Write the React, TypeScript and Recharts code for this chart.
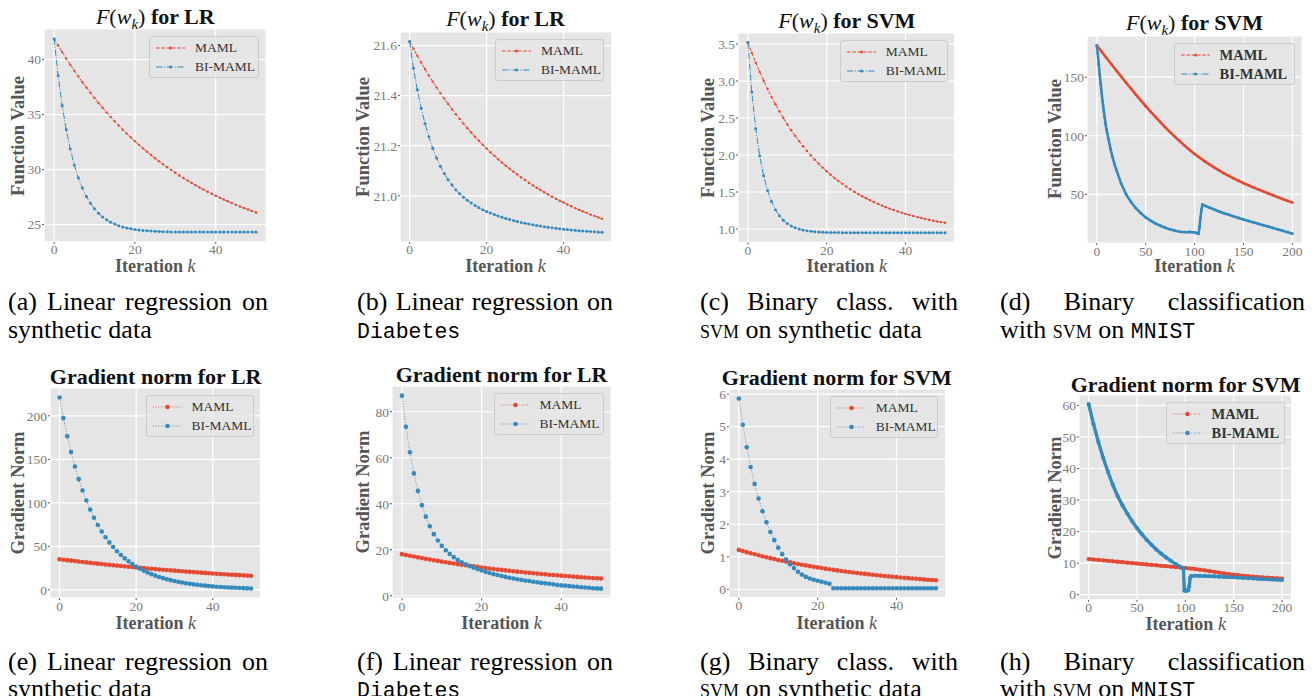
import React from 'react'
import { LineChart, Line, XAxis, YAxis, CartesianGrid } from 'recharts'

const RED = '#E24A33'
const BLUE = '#348ABD'
const SERIF = '"Liberation Serif", "Times New Roman", serif'
const MONO = '"Liberation Mono", "DejaVu Sans Mono", monospace'

// iteration indices
const iters50 = [0, 1, 2, 3, 4, 5, 6, 7, 8, 9, 10, 11, 12, 13, 14, 15, 16, 17, 18, 19, 20, 21, 22, 23, 24, 25,
  26, 27, 28, 29, 30, 31, 32, 33, 34, 35, 36, 37, 38, 39, 40, 41, 42, 43, 44, 45, 46, 47, 48, 49, 50]
const iters200 = [0, 5, 10, 15, 20, 25, 30, 35, 40, 45, 50, 55, 60, 65, 70, 75, 80, 85, 90, 95, 100, 105, 110,
  115, 120, 125, 130, 135, 140, 145, 150, 155, 160, 165, 170, 175, 180, 185, 190, 195, 200]
const itersBiD = [0, 1, 2, 3, 4, 5, 6, 7, 8, 9, 10, 12, 14, 16, 18, 20, 25, 30, 35, 40, 45, 50, 55, 60, 65, 70, 75,
  80, 85, 90, 95, 100, 103, 104, 105, 106, 107, 108, 110, 115, 120, 125, 130, 135, 140, 145, 150, 155, 160, 165,
  170, 175, 180, 185, 190, 195, 200]
const itersBiH = [0, 5, 10, 15, 20, 25, 30, 35, 40, 45, 50, 55, 60, 65, 70, 75, 80, 85, 90, 95, 98, 99, 100, 101,
  102, 103, 104, 105, 106, 110, 115, 120, 125, 130, 135, 140, 145, 150, 155, 160, 165, 170, 175, 180, 185, 190, 195, 200]

// (a) F(w_k), LR synthetic
const aMaml = [41.9, 41.28, 40.68, 40.1, 39.54, 38.99, 38.47, 37.95, 37.46, 36.98, 36.51, 36.06, 35.62, 35.2, 34.79,
  34.39, 34.01, 33.63, 33.27, 32.92, 32.58, 32.25, 31.93, 31.62, 31.33, 31.03, 30.75, 30.48, 30.22, 29.96, 29.72,
  29.47, 29.24, 29.02, 28.8, 28.59, 28.38, 28.18, 27.99, 27.81, 27.63, 27.45, 27.28, 27.12, 26.96, 26.8, 26.65,
  26.51, 26.37, 26.23, 26.1]
const aBi = [41.88, 38.54, 35.83, 33.64, 31.87, 30.43, 29.26, 28.32, 27.56, 26.94, 26.44, 26.03, 25.7, 25.44, 25.22,
  25.05, 24.9, 24.79, 24.7, 24.62, 24.56, 24.51, 24.47, 24.44, 24.41, 24.39, 24.37, 24.36, 24.35, 24.34, 24.33,
  24.33, 24.32, 24.32, 24.32, 24.32, 24.32, 24.32, 24.32, 24.32, 24.32, 24.32, 24.32, 24.32, 24.32, 24.32, 24.32,
  24.32, 24.32, 24.32, 24.32]

// (b) F(w_k), LR Diabetes
const bMaml = [21.616, 21.587, 21.559, 21.532, 21.506, 21.481, 21.456, 21.433, 21.41, 21.388, 21.367, 21.346, 21.326,
  21.307, 21.288, 21.27, 21.253, 21.236, 21.22, 21.204, 21.189, 21.174, 21.16, 21.146, 21.133, 21.12, 21.108, 21.096,
  21.085, 21.073, 21.063, 21.052, 21.042, 21.032, 21.023, 21.014, 21.005, 20.996, 20.988, 20.98, 20.973, 20.965,
  20.958, 20.951, 20.944, 20.938, 20.932, 20.925, 20.92, 20.914, 20.908]
const bBi = [21.616, 21.509, 21.423, 21.35, 21.289, 21.236, 21.19, 21.151, 21.118, 21.089, 21.064, 21.043, 21.024,
  21.008, 20.994, 20.982, 20.971, 20.961, 20.952, 20.944, 20.937, 20.931, 20.925, 20.919, 20.914, 20.909, 20.905,
  20.901, 20.897, 20.893, 20.89, 20.887, 20.884, 20.881, 20.879, 20.876, 20.874, 20.872, 20.87, 20.868, 20.866,
  20.865, 20.863, 20.862, 20.86, 20.859, 20.858, 20.857, 20.856, 20.855, 20.854]

// (c) F(w_k), SVM synthetic
const cMaml = [3.52, 3.38, 3.248, 3.123, 3.004, 2.892, 2.786, 2.686, 2.591, 2.501, 2.416, 2.335, 2.259, 2.187, 2.119,
  2.055, 1.994, 1.936, 1.881, 1.829, 1.781, 1.734, 1.69, 1.649, 1.61, 1.573, 1.538, 1.504, 1.473, 1.443, 1.415, 1.389,
  1.363, 1.339, 1.317, 1.295, 1.275, 1.256, 1.238, 1.221, 1.205, 1.19, 1.175, 1.161, 1.148, 1.136, 1.124, 1.113,
  1.103, 1.093, 1.084]
const cBi = [3.52, 2.851, 2.356, 1.99, 1.719, 1.519, 1.37, 1.261, 1.179, 1.119, 1.075, 1.042, 1.017, 0.999, 0.986,
  0.976, 0.969, 0.963, 0.959, 0.956, 0.954, 0.953, 0.952, 0.951, 0.95, 0.95, 0.95, 0.95, 0.95, 0.95, 0.95, 0.949,
  0.949, 0.949, 0.949, 0.949, 0.949, 0.949, 0.949, 0.949, 0.949, 0.948, 0.948, 0.948, 0.948, 0.948, 0.948, 0.948,
  0.948, 0.948, 0.948]

// (d) F(w_k), SVM MNIST
const dMaml = [177, 171.6, 166.2, 160.9, 155.6, 150.4, 145.2, 140.1, 135, 130.1, 125.2, 120.6, 116, 111.6, 107.2,
  103.1, 99, 95.2, 91.4, 87.9, 84.4, 81.4, 78.4, 75.7, 73, 70.5, 68, 65.8, 63.6, 61.6, 59.6, 57.8, 56, 54.3, 52.6,
  51, 49.3, 47.7, 46.1, 44.5, 43]
const dBi = [177, 170, 161, 152, 144, 136, 129, 122, 116, 110, 105, 97, 89, 82, 76, 71, 59, 50, 43.5, 38.2, 34, 30.4,
  27.6, 25.2, 23.3, 21.6, 20.2, 19, 18.2, 17.8, 18, 17.6, 16.8, 16.5, 22, 30, 37, 41.3, 40.6, 38.8, 37.1, 35.5, 34,
  32.6, 31.2, 29.9, 28.6, 27.4, 26.2, 25, 23.8, 22.6, 21.4, 20.2, 19, 17.8, 16.5]

// (e) gradient norm, LR synthetic
const eMaml = [35.2, 34.65, 34.12, 33.59, 33.07, 32.55, 32.05, 31.55, 31.06, 30.58, 30.1, 29.64, 29.18, 28.72, 28.28,
  27.84, 27.4, 26.98, 26.56, 26.15, 25.74, 25.34, 24.95, 24.56, 24.18, 23.8, 23.43, 23.07, 22.71, 22.36, 22.01,
  21.67, 21.34, 21, 20.68, 20.36, 20.04, 19.73, 19.43, 19.12, 18.83, 18.54, 18.25, 17.96, 17.69, 17.41, 17.14,
  16.88, 16.61, 16.36, 16.1]
const eBi = [221, 197.4, 176.6, 158.3, 141.8, 127.2, 114.2, 102.6, 92.2, 82.9, 74.6, 67.1, 60.5, 54.5, 49.2, 44.4,
  40.1, 36.2, 32.7, 29.6, 26.8, 24.2, 21.9, 19.9, 18, 16.3, 14.8, 13.5, 12.2, 11.1, 10.1, 9.2, 8.4, 7.6, 6.9, 6.3,
  5.8, 5.2, 4.8, 4.4, 4, 3.6, 3.3, 3, 2.7, 2.5, 2.3, 2.1, 1.9, 1.7, 1.6]

// (f) gradient norm, LR Diabetes
const fMaml = [18.1, 17.74, 17.39, 17.04, 16.71, 16.38, 16.06, 15.75, 15.44, 15.15, 14.86, 14.57, 14.3, 14.03, 13.76,
  13.5, 13.25, 13.01, 12.77, 12.54, 12.31, 12.09, 11.87, 11.66, 11.45, 11.25, 11.05, 10.86, 10.67, 10.49, 10.31,
  10.13, 9.96, 9.8, 9.63, 9.48, 9.32, 9.17, 9.02, 8.88, 8.74, 8.6, 8.47, 8.34, 8.21, 8.08, 7.96, 7.84, 7.73, 7.61, 7.5]
const fBi = [87, 73.5, 62.4, 53.2, 45.6, 39.4, 34.4, 30.2, 26.8, 24, 21.7, 19.8, 18.2, 16.8, 15.6, 14.6, 13.7, 12.9,
  12.2, 11.6, 11, 10.4, 9.9, 9.4, 9, 8.6, 8.2, 7.8, 7.5, 7.2, 6.9, 6.6, 6.4, 6.1, 5.9, 5.6, 5.4, 5.2, 5, 4.7, 4.5,
  4.4, 4.2, 4, 3.9, 3.7, 3.6, 3.5, 3.3, 3.2, 3.1]

// (g) gradient norm, SVM synthetic
const gMaml = [1.21, 1.175, 1.141, 1.108, 1.076, 1.044, 1.014, 0.985, 0.956, 0.928, 0.901, 0.875, 0.85, 0.825, 0.801,
  0.778, 0.755, 0.734, 0.712, 0.692, 0.672, 0.652, 0.633, 0.615, 0.597, 0.58, 0.563, 0.546, 0.531, 0.515, 0.5, 0.486,
  0.472, 0.458, 0.445, 0.432, 0.419, 0.407, 0.395, 0.384, 0.373, 0.362, 0.351, 0.341, 0.331, 0.322, 0.312, 0.303,
  0.294, 0.286, 0.278]
const gBi = [5.87, 5.06, 4.37, 3.76, 3.24, 2.79, 2.4, 2.06, 1.76, 1.51, 1.28, 1.08, 0.91, 0.77, 0.65, 0.54, 0.45, 0.38,
  0.33, 0.29, 0.26, 0.23, 0.2, 0.17, 0.03, 0.03, 0.03, 0.03, 0.03, 0.03, 0.03, 0.03, 0.03, 0.03, 0.03, 0.03, 0.03,
  0.03, 0.03, 0.03, 0.03, 0.03, 0.03, 0.03, 0.03, 0.03, 0.03, 0.03, 0.03, 0.03, 0.03]

// (h) gradient norm, SVM MNIST
const hMaml = [11.3, 11.16, 11.02, 10.87, 10.73, 10.59, 10.45, 10.3, 10.16, 10.02, 9.88, 9.73, 9.59, 9.45, 9.31, 9.16,
  9.02, 8.88, 8.74, 8.59, 8.45, 8.3, 8.13, 7.93, 7.72, 7.5, 7.25, 6.99, 6.74, 6.51, 6.32, 6.16, 6.01, 5.87, 5.73,
  5.6, 5.49, 5.38, 5.27, 5.17, 5.07]
const hBi = [60.4, 54.1, 48.5, 43.4, 38.9, 34.8, 31.2, 28.3, 25.7, 23.3, 21.1, 19.2, 17.4, 15.8, 14.3, 13, 11.8, 10.7,
  9.7, 8.8, 8.3, 1.3, 1.3, 1.3, 1.3, 1.4, 2.6, 5.4, 5.9, 6, 5.95, 5.9, 5.85, 5.8, 5.72, 5.65, 5.6, 5.52, 5.44, 5.35,
  5.26, 5.16, 5.06, 4.98, 4.9, 4.82, 4.74, 4.66]

const seriesNames = ['MAML', 'BI-MAML']
const ticks50 = [0, 20, 40]
const ticks200 = [0, 50, 100, 150, 200]

const pts = (ks: number[], vs: number[]) => ks.map((k, i) => ({ k, v: vs[i] }))

type Kind = 'f' | 'g'

function lineStyle(kind: Kind, which: number, dense: boolean) {
  const color = which === 0 ? RED : BLUE
  if (kind === 'f') {
    return {
      color,
      dash: dense ? undefined : which === 0 ? '3.7 1.6' : '6.4 1.6 1 1.6',
      width: dense ? 2.6 : 1,
      r: dense ? 1.4 : which === 0 ? 1.2 : 1.5,
      opacity: 1,
    }
  }
  return { color, dash: dense ? undefined : '1 1.6', width: dense ? 3.4 : 1, r: dense ? 2.1 : 2.3, opacity: dense ? 1 : 0.8 }
}

function Handle({ kind, which }: { kind: Kind; which: number }) {
  const s = lineStyle(kind, which, false)
  return (
    <svg width={32} height={10} style={{ position: 'absolute', left: 0, top: -5 }}>
      <line x1={1} y1={5} x2={30} y2={5} stroke={s.color} strokeWidth={1} strokeDasharray={s.dash} strokeOpacity={s.opacity} />
      <circle cx={15.5} cy={5} r={kind === 'g' ? 2.3 : 1.5} fill={s.color} />
    </svg>
  )
}

type PanelProps = {
  rect: [number, number, number, number]
  title: React.ReactNode
  titleY: number
  yLabel: string
  yLabelGap: number
  xLabelY: number
  xDomain: [number, number]
  xTicks: number[]
  yDomain: [number, number]
  yTicks: number[]
  yFmt?: (v: number) => string
  kind: Kind
  dense?: boolean
  bold?: boolean
  legendW: number
  maml: { k: number; v: number }[]
  bi: { k: number; v: number }[]
}

function Panel(p: PanelProps) {
  const [x, y, w, h] = p.rect
  const L = 44
  const T = 4
  const R = 4
  const B = 24
  const tickStyle = { fill: '#7a7a7a', fontSize: 13.5, fontFamily: SERIF }
  const lines = [p.maml, p.bi]
  return (
    <>
      <div style={{ position: 'absolute', left: x - L, top: y - T }}>
        <LineChart width={L + w + R} height={T + h + B} margin={{ top: T, right: R, bottom: 0, left: 0 }}>
          <CartesianGrid fill="#E5E5E5" fillOpacity={1} stroke="#FFFFFF" strokeWidth={1.2} />
          <XAxis
            type="number"
            dataKey="k"
            domain={p.xDomain}
            ticks={p.xTicks}
            interval={0}
            allowDataOverflow
            axisLine={false}
            tickLine={{ stroke: '#555555' }}
            tickSize={2}
            tickMargin={1}
            height={B}
            tick={tickStyle}
          />
          <YAxis
            type="number"
            domain={p.yDomain}
            ticks={p.yTicks}
            interval={0}
            allowDataOverflow
            axisLine={false}
            tickLine={{ stroke: '#555555' }}
            tickSize={2}
            tickMargin={1}
            width={L}
            tick={tickStyle}
            tickFormatter={p.yFmt}
          />
          {lines.map((d, i) => {
            const s = lineStyle(p.kind, i, !!p.dense)
            return (
              <Line
                key={seriesNames[i]}
                name={seriesNames[i]}
                data={d}
                dataKey="v"
                type="linear"
                stroke={s.color}
                strokeWidth={s.width}
                strokeDasharray={s.dash}
                strokeOpacity={s.opacity}
                dot={{ r: s.r, fill: s.color, stroke: s.color, strokeWidth: 0, strokeDasharray: undefined, fillOpacity: 1 }}
                activeDot={false}
                isAnimationActive={false}
              />
            )
          })}
        </LineChart>
      </div>
      <div
        style={{
          position: 'absolute', left: x - 30, width: w + 60, top: p.titleY - 11, height: 22, lineHeight: '22px',
          textAlign: 'center', fontFamily: SERIF, fontSize: 22, color: '#111', whiteSpace: 'nowrap',
        }}
      >
        {p.title}
      </div>
      <div
        style={{
          position: 'absolute', left: x - p.yLabelGap, top: y + h / 2, transform: 'translate(-50%, -50%) rotate(-90deg)',
          fontFamily: SERIF, fontWeight: 'bold', fontSize: 18.5, color: '#555', whiteSpace: 'nowrap',
        }}
      >
        {p.yLabel}
      </div>
      <div
        style={{
          position: 'absolute', left: x + w / 2, top: p.xLabelY, transform: 'translate(-50%, -50%)',
          fontFamily: SERIF, fontSize: 18, lineHeight: '18px', color: '#555', whiteSpace: 'nowrap',
        }}
      >
        <b>Iteration</b> <i>k</i>
      </div>
      <div
        style={{
          position: 'absolute', left: x + w - 7.5 - p.legendW, top: y + 7, width: p.legendW, height: 42,
          background: 'rgba(229,229,229,0.8)', border: '1px solid #CCCCCC', borderRadius: 3, boxSizing: 'border-box',
        }}
      >
        {seriesNames.map((n, i) => (
          <div key={n} style={{ position: 'absolute', left: 5, top: 11 + i * 19 }}>
            <Handle kind={p.kind} which={i} />
            <span
              style={{
                position: 'absolute', left: 40, top: -9, lineHeight: '18px', fontFamily: SERIF,
                fontSize: p.bold ? 14.5 : 13.5, fontWeight: p.bold ? 'bold' : 'normal', color: '#333', whiteSpace: 'nowrap',
              }}
            >
              {n}
            </span>
          </div>
        ))}
      </div>
    </>
  )
}

const Fw = ({ what }: { what: string }) => (
  <span>
    <i>F</i>(<i>w</i>
    <sub style={{ fontSize: 15, fontStyle: 'italic', lineHeight: 0 }}>k</sub>) <b>for {what}</b>
  </span>
)
const GradTitle = ({ what }: { what: string }) => <b>Gradient norm for {what}</b>

const Mono = ({ children }: { children: React.ReactNode }) => (
  <span style={{ fontFamily: MONO, fontSize: 21.5 }}>{children}</span>
)
const Sc = ({ children }: { children: React.ReactNode }) => (
  <span style={{ fontVariant: 'small-caps' }}>{children}</span>
)

function Caption({ x, top, width, lh, first, second }: { x: number; top: number; width: number; lh: number; first: string; second: React.ReactNode }) {
  return (
    <div style={{ position: 'absolute', left: x, top, width, fontFamily: SERIF, fontSize: 26, lineHeight: `${lh}px`, color: '#000' }}>
      <div style={{ textAlign: 'justify', textAlignLast: 'justify', whiteSpace: 'nowrap' }}>{first}</div>
      <div style={{ whiteSpace: 'nowrap' }}>{second}</div>
    </div>
  )
}

const fmt1 = (v: number) => v.toFixed(1)

export default function App() {
  return (
    <div style={{ position: 'absolute', left: 0, top: 0, width: 1312, height: 696, background: '#fff', overflow: 'hidden' }}>
      <Panel rect={[44.2, 29.4, 222.2, 212.8]} title={<Fw what="LR" />} titleY={17} yLabel="Function Value" yLabelGap={26}
        xLabelY={266} xDomain={[-2.5, 52.5]} xTicks={ticks50} yDomain={[23.44, 42.78]} yTicks={[25, 30, 35, 40]}
        kind="f" legendW={110} maml={pts(iters50, aMaml)} bi={pts(iters50, aBi)} />
      <Panel rect={[399.7, 32.2, 211.7, 209.9]} title={<Fw what="LR" />} titleY={19} yLabel="Function Value" yLabelGap={37}
        xLabelY={266} xDomain={[-2.5, 52.5]} xTicks={ticks50} yDomain={[20.816, 21.654]} yTicks={[21.0, 21.2, 21.4, 21.6]}
        yFmt={fmt1} kind="f" legendW={109} maml={pts(iters50, bMaml)} bi={pts(iters50, bBi)} />
      <Panel rect={[738.4, 33.3, 216.8, 209.4]} title={<Fw what="SVM" />} titleY={21} yLabel="Function Value" yLabelGap={30}
        xLabelY={266} xDomain={[-2.5, 52.5]} xTicks={ticks50} yDomain={[0.819, 3.649]} yTicks={[1, 1.5, 2, 2.5, 3, 3.5]}
        yFmt={fmt1} kind="f" legendW={108} maml={pts(iters50, cMaml)} bi={pts(iters50, cBi)} />
      <Panel rect={[1086.9, 35.6, 215.2, 207.1]} title={<Fw what="SVM" />} titleY={23} yLabel="Function Value" yLabelGap={32}
        xLabelY={266} xDomain={[-10, 210]} xTicks={ticks200} yDomain={[8.5, 185]} yTicks={[50, 100, 150]}
        kind="f" dense bold legendW={121} maml={pts(iters200, dMaml)} bi={pts(itersBiD, dBi)} />

      <Panel rect={[50.4, 388.2, 210.6, 210]} title={<GradTitle what="LR" />} titleY={377} yLabel="Gradient Norm" yLabelGap={32}
        xLabelY={622.5} xDomain={[-2.5, 52.5]} xTicks={ticks50} yDomain={[-9.4, 232]} yTicks={[0, 50, 100, 150, 200]}
        kind="g" legendW={108} maml={pts(iters50, eMaml)} bi={pts(iters50, eBi)} />
      <Panel rect={[392, 385.9, 219, 212.3]} title={<GradTitle what="LR" />} titleY={375} yLabel="Gradient Norm" yLabelGap={29}
        xLabelY={622.5} xDomain={[-2.5, 52.5]} xTicks={ticks50} yDomain={[-1.1, 91.2]} yTicks={[0, 20, 40, 60, 80]}
        kind="g" legendW={110} maml={pts(iters50, fMaml)} bi={pts(iters50, fBi)} />
      <Panel rect={[728.5, 389.1, 216.7, 208.7]} title={<GradTitle what="SVM" />} titleY={377.5} yLabel="Gradient Norm" yLabelGap={20.5}
        xLabelY={622.5} xDomain={[-2.5, 52.5]} xTicks={ticks50} yDomain={[-0.26, 6.16]} yTicks={[0, 1, 2, 3, 4, 5, 6]}
        kind="g" legendW={108} maml={pts(iters50, gMaml)} bi={pts(iters50, gBi)} />
      <Panel rect={[1079.3, 395.3, 212.7, 204.9]} title={<GradTitle what="SVM" />} titleY={385} yLabel="Gradient Norm" yLabelGap={24}
        xLabelY={624} xDomain={[-10, 210]} xTicks={ticks200} yDomain={[-1.65, 63.3]} yTicks={[0, 10, 20, 30, 40, 50, 60]}
        kind="g" dense bold legendW={119} maml={pts(iters200, hMaml)} bi={pts(itersBiH, hBi)} />

      <Caption x={8} top={288} lh={28} width={260} first="(a) Linear regression on" second="synthetic data" />
      <Caption x={357} top={288} lh={28} width={256} first="(b) Linear regression on" second={<Mono>Diabetes</Mono>} />
      <Caption x={700} top={288} lh={28} width={258} first="(c) Binary class. with" second={<><Sc>svm</Sc> on synthetic data</>} />
      <Caption x={1000} top={288} lh={28} width={305} first="(d) Binary classification" second={<>with <Sc>svm</Sc> on <Mono>MNIST</Mono></>} />
      <Caption x={8} top={648} lh={27} width={260} first="(e) Linear regression on" second="synthetic data" />
      <Caption x={357} top={648} lh={27} width={256} first="(f) Linear regression on" second={<Mono>Diabetes</Mono>} />
      <Caption x={700} top={648} lh={27} width={258} first="(g) Binary class. with" second={<><Sc>svm</Sc> on synthetic data</>} />
      <Caption x={1000} top={648} lh={27} width={305} first="(h) Binary classification" second={<>with <Sc>svm</Sc> on <Mono>MNIST</Mono></>} />
    </div>
  )
}
